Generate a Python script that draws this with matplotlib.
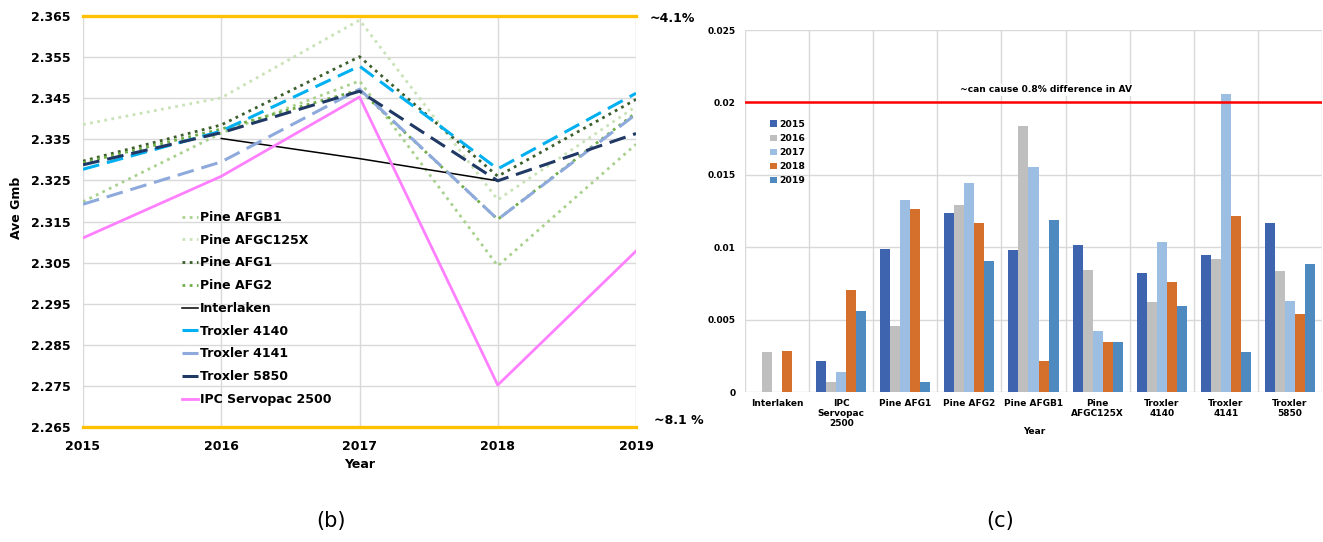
import numpy as np
import matplotlib.pyplot as plt

plt.rcParams['font.family'] = 'DejaVu Sans'

# (b) Ave Gmb por ano
anos = [2015, 2016, 2017, 2018, 2019]
pine_afgb1 = [2.3198, 2.3365, 2.3492, 2.3042, 2.3338]
pine_afgc125x = [2.3386, 2.3451, 2.3640, 2.3203, 2.3430]
pine_afg1 = [2.3297, 2.3385, 2.3551, 2.3260, 2.3447]
pine_afg2 = [2.3293, 2.3375, 2.3470, 2.3155, 2.3415]
interlaken = [np.nan, 2.3352, 2.3303, 2.3249, np.nan]
troxler_4140 = [2.3277, 2.3370, 2.3528, 2.3278, 2.3462]
troxler_4141 = [2.3192, 2.3295, 2.3472, 2.3155, 2.3411]
troxler_5850 = [2.3288, 2.3366, 2.3467, 2.3249, 2.3364]
ipc_servopac = [2.3110, 2.3260, 2.3453, 2.2752, 2.3078]
limite_sup = 2.365
limite_inf = 2.265

# (c) diferenca por equipamento
categorias = ["Interlaken", "IPC\nServopac\n2500", "Pine AFG1", "Pine AFG2", "Pine AFGB1",
              "Pine\nAFGC125X", "Troxler\n4140", "Troxler\n4141", "Troxler\n5850"]
dif_2015 = [0, 0.00212, 0.00985, 0.01236, 0.00979, 0.01013, 0.00822, 0.00949, 0.01170]
dif_2016 = [0.00278, 0.00069, 0.00454, 0.01291, 0.01837, 0.00845, 0.00622, 0.00921, 0.00836]
dif_2017 = [0, 0.00138, 0.01329, 0.01443, 0.01554, 0.00419, 0.01036, 0.02058, 0.00628]
dif_2018 = [0.00280, 0.00704, 0.01267, 0.01167, 0.00212, 0.00348, 0.00760, 0.01213, 0.00541]
dif_2019 = [0, 0.00562, 0.00070, 0.00907, 0.01186, 0.00348, 0.00597, 0.00276, 0.00882]
limite_av = 0.02

fig = plt.figure(figsize=(13.23, 5.42), dpi=100)
grade = '#D9D9D9'

# ---------- grafico (b)
ax1 = fig.add_axes([83/1323, 1-427/542, (636-83)/1323, (427-16)/542])
pontilhado = (0, (1, 1.6))
tracejado = (0, (5.5, 2.6))
series = [
    (pine_afgb1, "Pine AFGB1", '#A9D18E', pontilhado, 2.0),
    (pine_afgc125x, "Pine AFGC125X", '#C9E2B8', pontilhado, 2.0),
    (pine_afg1, "Pine AFG1", '#3B5E2B', pontilhado, 2.0),
    (pine_afg2, "Pine AFG2", '#70AD47', pontilhado, 2.0),
    (interlaken, "Interlaken", 'black', '-', 1.1),
    (troxler_4140, "Troxler 4140", '#00B0F0', tracejado, 2.2),
    (troxler_4141, "Troxler 4141", '#8EA9DB', tracejado, 2.2),
    (troxler_5850, "Troxler 5850", '#203864', tracejado, 2.2),
    (ipc_servopac, "IPC Servopac 2500", '#FF80FF', '-', 2.0),
]
for valores, nome, cor, estilo, lw in series:
    ax1.plot(anos, valores, color=cor, linestyle=estilo, linewidth=lw, label=nome)

ax1.axhline(limite_sup, color='#FFC000', linewidth=2.4, clip_on=False, zorder=5)
ax1.axhline(limite_inf, color='#FFC000', linewidth=2.4, clip_on=False, zorder=5)
ax1.set_xlim(2015, 2019)
ax1.set_ylim(limite_inf, limite_sup)
ax1.set_xticks(anos)
ax1.set_yticks(np.arange(2.265, 2.3651, 0.01))
ax1.set_yticklabels(["%.3f" % v for v in np.arange(2.265, 2.3651, 0.01)])
ax1.grid(True, color=grade, linewidth=1)
ax1.set_axisbelow(True)
for s in ax1.spines.values():
    s.set_visible(False)
ax1.tick_params(length=0, labelsize=9)
ax1.tick_params(axis='y', pad=9)
ax1.tick_params(axis='x', pad=9)
for t in ax1.get_xticklabels() + ax1.get_yticklabels():
    t.set_fontweight('bold')

ax1.legend(loc='upper left', bbox_to_anchor=(182/1323, 1-211/542), bbox_transform=fig.transFigure,
           frameon=False, prop={'weight': 'bold', 'size': 9}, handlelength=1.3,
           handletextpad=0.15, labelspacing=0.78, borderpad=0, borderaxespad=0)

fig.text(16/1323, 1-208/542, "Ave Gmb", rotation=90, ha='center', va='center', fontsize=9, fontweight='bold')
fig.text(360/1323, 1-464/542, "Year", ha='center', va='center', fontsize=9, fontweight='bold')
fig.text(650/1323, 1-19/542, "~4.1%", ha='left', va='center', fontsize=9, fontweight='bold')
fig.text(654/1323, 1-420/542, "~8.1 %", ha='left', va='center', fontsize=9, fontweight='bold')

# ---------- grafico (c)
ax2 = fig.add_axes([745/1323, 1-392/542, (1322-745)/1323, (392-30)/542])
x = np.arange(len(categorias))
larg = 0.156
anos_barras = [dif_2015, dif_2016, dif_2017, dif_2018, dif_2019]
cores_barras = ['#3F64AF', '#BFBFBF', '#9DBEE3', '#D5702C', '#4E8AC0']
for i in range(5):
    ax2.bar(x + (i - 2) * larg, anos_barras[i], width=larg, color=cores_barras[i], label=str(anos[i]), zorder=2)

ax2.axhline(limite_av, color='#FF0000', linewidth=1.8, zorder=3)
ax2.text(1046/1323, 1-90/542, "~can cause 0.8% difference in AV", transform=fig.transFigure,
         ha='center', va='center', fontsize=6.6, fontweight='bold',
         bbox=dict(facecolor='white', edgecolor='none', pad=1), zorder=4)
ax2.set_xlim(-0.5, len(categorias) - 0.5)
ax2.set_ylim(0, 0.025)
ax2.set_yticks([0, 0.005, 0.01, 0.015, 0.02, 0.025])
ax2.set_yticklabels(["0", "0.005", "0.01", "0.015", "0.02", "0.025"])
ax2.set_xticks(x)
ax2.set_xticklabels(categorias, linespacing=1.15)
ax2.set_xticks(np.arange(-0.5, len(categorias)), minor=True)
ax2.grid(True, axis='y', color=grade, linewidth=1)
ax2.grid(True, axis='x', which='minor', color=grade, linewidth=1)
ax2.set_axisbelow(True)
for s in ax2.spines.values():
    s.set_visible(False)
ax2.tick_params(which='both', length=0, labelsize=6.5)
ax2.tick_params(axis='y', pad=7)
ax2.tick_params(axis='x', pad=5)
for t in ax2.get_xticklabels() + ax2.get_yticklabels():
    t.set_fontweight('bold')
ax2.legend(loc='upper left', bbox_to_anchor=(770/1323, 1-120/542), bbox_transform=fig.transFigure,
           frameon=False, prop={'weight': 'bold', 'size': 6.7}, handlelength=0.7, handleheight=0.7,
           handletextpad=0.3, labelspacing=0.55, borderpad=0, borderaxespad=0)
fig.text(1034/1323, 1-432/542, "Year", ha='center', va='center', fontsize=6.5, fontweight='bold')

fig.text(331/1323, 1-521/542, "(b)", ha='center', va='center', fontsize=15)
fig.text(1000/1323, 1-521/542, "(c)", ha='center', va='center', fontsize=15)

fig.savefig("out.png", dpi=100)
